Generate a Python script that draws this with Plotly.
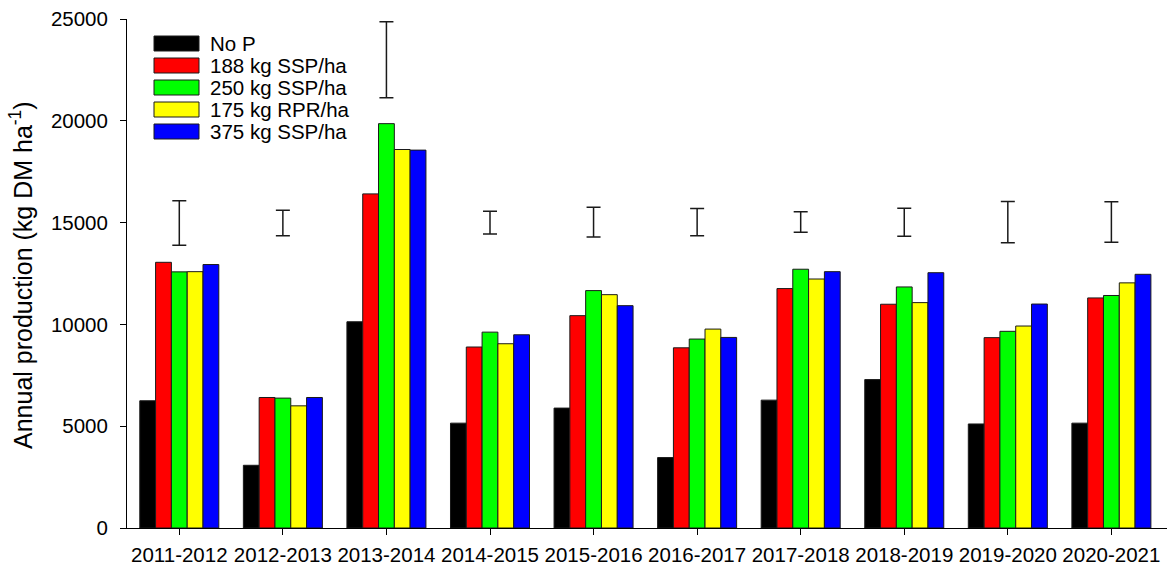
import plotly.graph_objects as go

seasons = ["2011-2012", "2012-2013", "2013-2014", "2014-2015", "2015-2016",
           "2016-2017", "2017-2018", "2018-2019", "2019-2020", "2020-2021"]

series_names = ["No P", "188 kg SSP/ha", "250 kg SSP/ha", "175 kg RPR/ha", "375 kg SSP/ha"]
series_colors = ["#000000", "#FF0000", "#00FF00", "#FFFF00", "#0000FF"]

no_p = [6250, 3080, 10130, 5150, 5890, 3460, 6280, 7290, 5110, 5150]
ssp_188 = [13050, 6410, 16410, 8890, 10430, 8850, 11760, 10990, 9350, 11300]
ssp_250 = [12580, 6380, 19860, 9620, 11660, 9280, 12710, 11840, 9660, 11420]
rpr_175 = [12590, 6000, 18590, 9050, 11460, 9770, 12230, 11070, 9920, 12040]
ssp_375 = [12940, 6410, 18560, 9490, 10920, 9360, 12590, 12540, 11000, 12460]

err_low = [13890, 14360, 21130, 14440, 14290, 14350, 14530, 14330, 14010, 14040]
err_high = [16070, 15610, 24870, 15560, 15760, 15690, 15530, 15710, 16040, 16020]

y_ticks = [0, 5000, 10000, 15000, 20000, 25000]

FONT = "Liberation Sans, Arial, sans-serif"
FS = 20.5
FS_TITLE = 25

fig = go.Figure()
for name, color, vals in zip(series_names, series_colors,
                             [no_p, ssp_188, ssp_250, rpr_175, ssp_375]):
    fig.add_trace(go.Bar(x=seasons, y=vals, name=name,
                         marker=dict(color=color, line=dict(color="#1a1a1a", width=1)),
                         showlegend=False))

err_mid = [(a + b) / 2 for a, b in zip(err_low, err_high)]
err_half = [(b - a) / 2 for a, b in zip(err_low, err_high)]
fig.add_trace(go.Scatter(x=seasons, y=err_mid, mode="markers",
                         marker=dict(size=1, opacity=0),
                         error_y=dict(type="data", array=err_half, symmetric=True,
                                      color="#1a1a1a", thickness=1.5, width=7),
                         showlegend=False, hoverinfo="skip"))

# manual legend (large swatches like the original)
L, W = 127, 1040
T, H = 19, 509
def px_x(p):
    return (p - L) / W
def px_y(p):
    return 1 - (p - T) / H
row_y = [43.5, 65.5, 87.5, 109.5, 131.5]
for name, color, yc in zip(series_names, series_colors, row_y):
    fig.add_shape(type="rect", xref="paper", yref="paper",
                  x0=px_x(154), x1=px_x(199), y0=px_y(yc + 7.5), y1=px_y(yc - 7.5),
                  fillcolor=color, line=dict(color="#1a1a1a", width=1))
    fig.add_annotation(xref="paper", yref="paper", x=px_x(208), y=px_y(yc),
                       text=name, showarrow=False, xanchor="left", yanchor="middle",
                       font=dict(family=FONT, size=FS, color="#000"))

fig.add_annotation(xref="paper", yref="paper", x=px_x(21), y=px_y(275),
                   text="Annual production (kg DM ha<sup>-1</sup>)", textangle=-90,
                   showarrow=False, xanchor="center", yanchor="middle",
                   font=dict(family=FONT, size=FS_TITLE, color="#000"))

fig.update_layout(
    width=1171, height=567,
    margin=dict(l=L, r=1171 - L - W, t=T, b=567 - T - H, autoexpand=False),
    paper_bgcolor="white", plot_bgcolor="white",
    barmode="group", bargap=0.237, bargroupgap=0,
    font=dict(family=FONT, size=FS, color="#000"),
)
fig.update_xaxes(range=[-0.505, 9.537], showline=True, linecolor="#000", linewidth=1,
                 ticks="outside", ticklen=6, tickcolor="#000", showgrid=False,
                 automargin=False, ticklabelstandoff=2,
                 tickfont=dict(family=FONT, size=FS, color="#000"))
fig.update_yaxes(range=[0, 25000], tickvals=y_ticks, tickformat="d", showline=True,
                 linecolor="#000", linewidth=1, ticks="outside", ticklen=6,
                 tickcolor="#000", showgrid=False, zeroline=False,
                 automargin=False, ticklabelstandoff=8,
                 tickfont=dict(family=FONT, size=FS, color="#000"))

fig.write_html("out.html", config={"displayModeBar": False},
               post_script="document.body.style.margin='0';document.body.style.padding='0';")
